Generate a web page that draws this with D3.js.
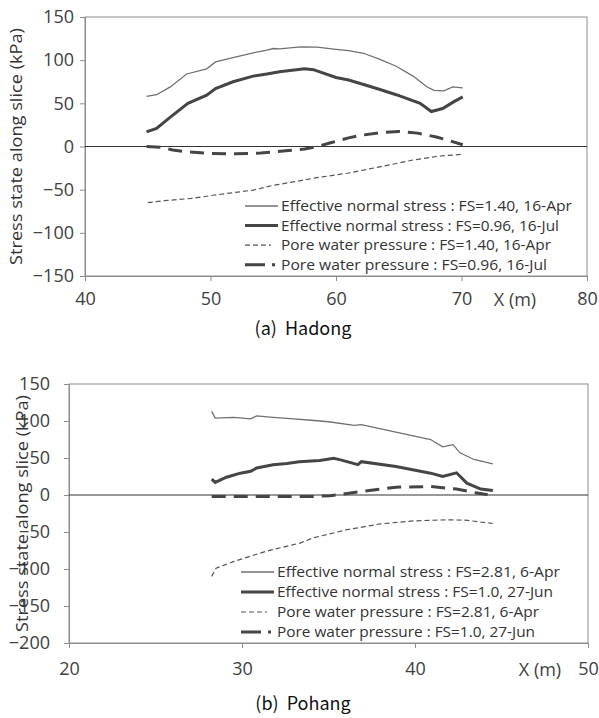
<!DOCTYPE html>
<html>
<head>
<meta charset="utf-8">
<script src="https://cdn.jsdelivr.net/npm/d3@7"></script>
<style>
  body { margin: 0; background: #fff; }
  svg { display: block; font-family: "Open Sans", sans-serif; }
</style>
</head>
<body>
<div id="chart"></div>
<script>
////////////////////////////////////////////////////////////////////
////////////////////////////  Data  ////////////////////////////////
// (a) Hadong : [x (m), stress (kPa)]
const hadongEffApr = [[44.9,58],[45.7,60],[46.8,69],[48.1,84],[49.7,90],[50.4,98],[51.8,103],[53.4,108.5],[54.5,111.5],[55.0,113.5],[55.5,113],[57.2,115.5],[58.5,115],[60.0,112.5],[61.0,111],[62.2,108],[63.5,101],[64.8,93],[66.2,81],[67.2,69.5],[67.8,65],[68.6,64.5],[69.3,69],[70.1,68]];
const hadongEffJul = [[44.9,17],[45.7,21],[46.8,34],[48.2,50],[49.7,59.5],[50.4,67],[51.8,75],[53.4,81.5],[54.5,84],[55.5,86.5],[57.5,90],[58.2,89],[60.0,80],[61.0,77],[62.4,71],[63.5,66],[64.8,60],[66.7,50],[67.6,40.5],[68.5,44],[69.4,52],[70.1,57.5]];
const hadongPwpApr = [[45,-65],[46.5,-62.5],[48.6,-60],[50.2,-56.5],[51.8,-53.5],[53.4,-50.5],[55,-45],[56.6,-41],[58.5,-36],[60.9,-31],[63.5,-23.5],[66.2,-15.5],[68.3,-11],[70.1,-9]];
const hadongPwpJul = [[44.9,0],[46,-1],[47,-4],[48,-6],[50,-8],[52,-8.5],[54,-7.5],[56,-5],[57.5,-3],[58.5,0],[59.5,4],[61,10],[62,13],[63.5,16],[65,17.5],[66.5,15.5],[68,11],[69,7],[70.1,2]];
const hadongLegend = ["Effective normal stress : FS=1.40, 16-Apr", "Effective normal stress : FS=0.96, 16-Jul", "Pore water pressure : FS=1.40, 16-Apr", "Pore water pressure : FS=0.96, 16-Jul"];
const hadongXTicks = [40, 50, 60, 70, 80];
const hadongYTicks = [-150, -100, -50, 0, 50, 100, 150];

// (b) Pohang
const pohangEffApr = [[28.25,113],[28.45,104],[29.5,105],[30.5,103],[30.85,107],[31.8,105],[33,103],[34,101],[35,99],[36.5,94],[36.9,95],[38.9,85],[40.9,75],[41.6,65],[42.2,68],[42.6,57],[43.4,48],[44.5,42]];
const pohangEffJun = [[28.25,21.5],[28.45,17],[29.1,24],[29.9,29.5],[30.5,32],[30.85,36.5],[31.8,41],[32.6,42.5],[33.3,45],[34.5,46.5],[35.3,49.5],[35.7,47.5],[36.7,41],[36.9,45],[38.9,38.5],[40.9,29.5],[41.6,25],[42.4,30],[43,16],[43.8,8],[44.5,6]];
const pohangPwpApr = [[28.25,-110],[28.5,-99],[29.5,-90],[31.4,-76],[33.35,-65],[34.1,-58],[36.05,-47],[38,-39],[39.9,-35],[41.8,-33.5],[42.9,-34],[44.5,-38.5]];
const pohangPwpJun = [[28.25,-2],[30,-2],[32,-2],[34,-2],[35.1,-1],[37,5],[38.9,10.5],[40.9,11.5],[42.4,8],[43.5,3],[44.2,0.5]];
const pohangLegend = ["Effective normal stress : FS=2.81, 6-Apr", "Effective normal stress : FS=1.0, 27-Jun", "Pore water pressure : FS=2.81, 6-Apr", "Pore water pressure : FS=1.0, 27-Jun"];
const pohangXTicks = [20, 30, 40, 50];
const pohangYTicks = [-200, -150, -100, -50, 0, 50, 100, 150];

////////////////////////////////////////////////////////////////////
////////////////////////////  Init  ////////////////////////////////
const width = 599, height = 718;
const svg = d3.select("#chart").append("svg").attr("width", width).attr("height", height);

// line styles: thin solid, thick solid, thin dash, thick dash
// (legDash = the pattern as it shows up in the short legend sample)
const styles = [
  { stroke: "#707070", width: 1.3, dash: null, legDash: null },
  { stroke: "#454545", width: 3, dash: null, legDash: null },
  { stroke: "#555", width: 1.2, dash: "5,3", legDash: "5,3,5,3,5,3,2,7" },
  { stroke: "#454545", width: 3, dash: "14,8", legDash: "20,7,3,5" }
];

function drawPanel(p) {
  const x = d3.scaleLinear().domain(p.xDomain).range([p.left, p.right]);
  const y = d3.scaleLinear().domain(p.yDomain).range([p.bottom, p.top]);
  const g = svg.append("g");

  // frame
  g.append("rect")
    .attr("x", p.left).attr("y", p.top)
    .attr("width", p.right - p.left).attr("height", p.bottom - p.top)
    .attr("fill", "none").attr("stroke", "#8c8c8c");

  const yAxis = g.append("g")
    .attr("transform", `translate(${p.left},0)`)
    .call(d3.axisLeft(y).tickValues(p.yTicks).tickSize(5).tickPadding(p.yPad));
  const xAxis = g.append("g")
    .attr("transform", `translate(0,${p.bottom})`)
    .call(d3.axisBottom(x).tickValues(p.xTicks).tickSize(5).tickPadding(p.xPad));
  [xAxis, yAxis].forEach((a) => {
    a.select(".domain").attr("stroke", "#8c8c8c");
    a.selectAll(".tick line").attr("stroke", "#8c8c8c");
    a.selectAll(".tick text").attr("fill", "#404040")
      .style("font-size", "18px").style("font-family", "Open Sans");
  });

  // zero line
  g.append("line")
    .attr("x1", p.left).attr("x2", p.right)
    .attr("y1", y(0)).attr("y2", y(0))
    .attr("stroke", "#333").attr("stroke-width", 1.2);

  const line = d3.line().x((d) => x(d[0])).y((d) => y(d[1]));
  p.series.forEach((s, i) => {
    g.append("path")
      .datum(s)
      .attr("d", line)
      .attr("fill", "none")
      .attr("stroke", styles[i].stroke)
      .attr("stroke-width", styles[i].width)
      .attr("stroke-dasharray", styles[i].dash);
  });

  // legend
  p.legend.forEach((t, i) => {
    const ly = p.legY + i * p.legStep;
    g.append("line")
      .attr("x1", p.legX).attr("x2", p.legX + 33)
      .attr("y1", ly).attr("y2", ly)
      .attr("stroke", styles[i].stroke)
      .attr("stroke-width", styles[i].width)
      .attr("stroke-dasharray", styles[i].legDash);
    g.append("text")
      .attr("x", p.legX + 36).attr("y", ly)
      .attr("dy", "0.35em")
      .attr("textLength", p.legW[i]).attr("lengthAdjust", "spacingAndGlyphs")
      .attr("fill", "#333")
      .style("font-size", "15px")
      .text(t);
  });

  // axis titles
  g.append("text")
    .attr("transform", `translate(${p.titleX},${(p.top + p.bottom) / 2}) rotate(-90)`)
    .attr("text-anchor", "middle")
    .attr("dy", "0.35em")
    .attr("textLength", 237).attr("lengthAdjust", "spacingAndGlyphs")
    .attr("fill", "#333")
    .style("font-size", "17px")
    .text("Stress state along slice (kPa)");

  g.append("text")
    .attr("x", p.xLabelX).attr("y", p.bottom + p.xPad + 19)
    .attr("text-anchor", "middle")
    .attr("fill", "#404040")
    .style("font-size", "18px")
    .text("X (m)");

  g.append("text")
    .attr("x", 303).attr("y", p.captionY)
    .attr("text-anchor", "middle")
    .attr("fill", "#111")
    .style("font-family", "'Noto Sans CJK KR', sans-serif")
    .style("font-size", "18px")
    .attr("xml:space", "preserve")
    .text(p.caption);
}

drawPanel({
  xDomain: [40, 80], yDomain: [-150, 150],
  left: 85, right: 587, top: 17, bottom: 276,
  xTicks: hadongXTicks, yTicks: hadongYTicks, yPad: 6, xPad: 11,
  series: [hadongEffApr, hadongEffJul, hadongPwpApr, hadongPwpJul],
  legend: hadongLegend, legX: 245, legY: 206, legStep: 19.6,
  legW: [291, 278, 270, 266],
  titleX: 16, xLabelX: 515,
  caption: "(a)  Hadong", captionY: 335
});

drawPanel({
  xDomain: [20, 50], yDomain: [-200, 150],
  left: 69, right: 588, top: 384, bottom: 643,
  xTicks: pohangXTicks, yTicks: pohangYTicks, yPad: 14, xPad: 14,
  series: [pohangEffApr, pohangEffJun, pohangPwpApr, pohangPwpJun],
  legend: pohangLegend, legX: 241, legY: 572, legStep: 20,
  legW: [283, 276, 262, 258],
  titleX: 22, xLabelX: 540,
  caption: "(b)  Pohang", captionY: 710
});
</script>
</body>
</html>
